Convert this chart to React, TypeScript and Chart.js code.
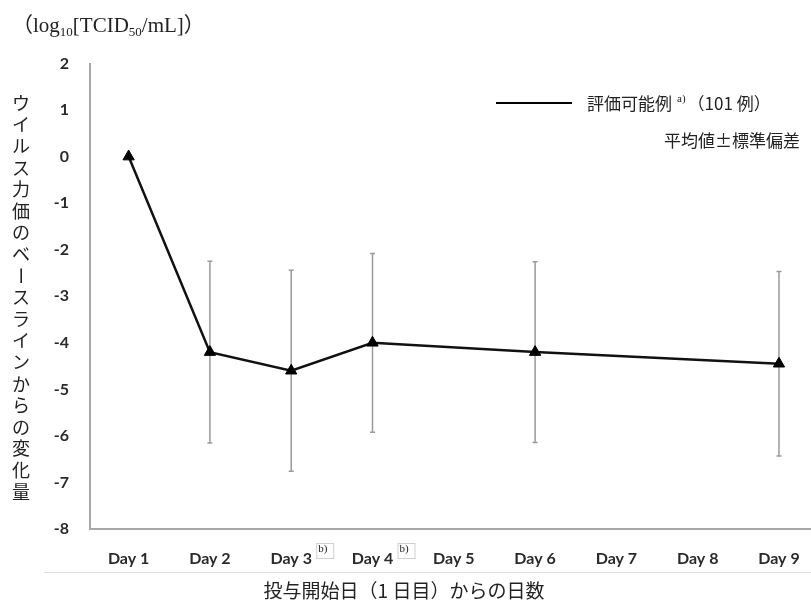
import React, { useEffect, useRef } from "react";
import { Chart, registerables } from "chart.js";

Chart.register(...registerables);

const dayLabels = ["Day 1", "Day 2", "Day 3", "Day 4", "Day 5", "Day 6", "Day 7", "Day 8", "Day 9"];
const measuredDays = [1, 2, 3, 4, 6, 9];
const meanChange = [0, -4.2, -4.6, -4.0, -4.2, -4.45];
const sdChange = [0, 1.95, 2.16, 1.92, 1.94, 1.98];
const yTickValues = [2, 1, 0, -1, -2, -3, -4, -5, -6, -7, -8];
const footnoteDays = [3, 4];

const yTitle = "ウイルス力価のベースラインからの変化量";
const xTitle = "投与開始日（1 日目）からの日数";
const legendLabel = "評価可能例";
const legendSup = "a)";
const legendTail = "（101 例）";
const statLabel = "平均値±標準偏差";

const CJK = '"Noto Sans CJK JP"';
const SERIF = '"Liberation Serif", "Noto Sans CJK JP"';

const errorBarPlugin = {
  id: "errorBars",
  beforeDatasetsDraw(chart: any) {
    const { ctx } = chart;
    const xs = chart.scales.x;
    const ys = chart.scales.y;
    ctx.save();
    ctx.strokeStyle = "#9a9a9a";
    ctx.lineWidth = 1.5;
    measuredDays.forEach((d, i) => {
      const sd = sdChange[i];
      if (!sd) return;
      const px = xs.getPixelForValue(d);
      const top = ys.getPixelForValue(meanChange[i] + sd);
      const bot = ys.getPixelForValue(meanChange[i] - sd);
      ctx.beginPath();
      ctx.moveTo(px, top);
      ctx.lineTo(px, bot);
      ctx.moveTo(px - 2.5, top);
      ctx.lineTo(px + 2.5, top);
      ctx.moveTo(px - 2.5, bot);
      ctx.lineTo(px + 2.5, bot);
      ctx.stroke();
    });
    ctx.restore();
  },
};

const annotationPlugin = {
  id: "annotations",
  afterDraw(chart: any) {
    const { ctx } = chart;
    const xs = chart.scales.x;
    ctx.save();
    ctx.fillStyle = "#222";
    ctx.textBaseline = "alphabetic";

    // unit label top-left
    let x = 12;
    const baseY = 32;
    const segs: [string, number, boolean][] = [
      ["（log", 0, false],
      ["10", 4, true],
      ["[TCID", 0, false],
      ["50", 4, true],
      ["/mL]）", 0, false],
    ];
    segs.forEach(([t, dy, small]) => {
      ctx.font = small ? `13px ${SERIF}` : `21px ${SERIF}`;
      ctx.textAlign = "left";
      ctx.fillText(t, x, baseY + dy);
      x += ctx.measureText(t).width;
    });

    // vertical y title
    ctx.font = `18px ${CJK}`;
    ctx.textAlign = "center";
    ctx.textBaseline = "middle";
    const chars = Array.from(yTitle);
    chars.forEach((ch, i) => {
      const cy = 103 + i * 21.6;
      if (ch === "ー") {
        ctx.save();
        ctx.translate(21, cy);
        ctx.rotate(Math.PI / 2);
        ctx.fillText(ch, 0, 0);
        ctx.restore();
      } else {
        ctx.fillText(ch, 21, cy);
      }
    });

    // legend
    ctx.strokeStyle = "#000";
    ctx.lineWidth = 2;
    ctx.beginPath();
    ctx.moveTo(496, 103);
    ctx.lineTo(572, 103);
    ctx.stroke();
    ctx.textAlign = "left";
    ctx.textBaseline = "middle";
    ctx.font = `17px ${CJK}`;
    let lx = 587;
    ctx.fillText(legendLabel, lx, 104);
    lx += ctx.measureText(legendLabel).width + 5;
    ctx.font = `11px ${SERIF}`;
    ctx.fillText(legendSup, lx, 99);
    lx += ctx.measureText(legendSup).width + 2;
    ctx.font = `17px ${CJK}`;
    ctx.fillText(legendTail, lx, 104);
    ctx.fillText(statLabel, 664, 141);

    // footnote boxes after Day 3 / Day 4
    footnoteDays.forEach((d) => {
      const bx = xs.getPixelForValue(d) + 25;
      ctx.fillStyle = "#fff";
      ctx.fillRect(bx, 543, 17, 15);
      ctx.strokeStyle = "#cfcfcf";
      ctx.lineWidth = 1;
      ctx.strokeRect(bx + 0.5, 543.5, 17, 15);
      ctx.fillStyle = "#222";
      ctx.font = `11px ${SERIF}`;
      ctx.textAlign = "left";
      ctx.textBaseline = "middle";
      ctx.fillText("b)", bx + 2, 549);
    });

    // separator line under tick labels
    ctx.strokeStyle = "#dddddd";
    ctx.lineWidth = 1;
    ctx.beginPath();
    ctx.moveTo(44, 572.5);
    ctx.lineTo(830, 572.5);
    ctx.stroke();

    // x title
    ctx.fillStyle = "#222";
    ctx.font = `19px ${CJK}`;
    ctx.textAlign = "center";
    ctx.textBaseline = "middle";
    ctx.fillText(xTitle, 404, 591);
    ctx.restore();
  },
};

export default function App() {
  const ref = useRef<HTMLCanvasElement>(null);
  useEffect(() => {
    if (!ref.current) return;
    const chart = new Chart(ref.current, {
      type: "line",
      data: {
        datasets: [
          {
            label: legendLabel,
            data: measuredDays.map((d, i) => ({ x: d, y: meanChange[i] })),
            borderColor: "#111",
            backgroundColor: "#000",
            borderWidth: 2.5,
            pointStyle: "triangle",
            pointRadius: 6.5,
            pointBorderWidth: 1,
            pointBorderColor: "#000",
            pointBackgroundColor: "#000",
            tension: 0,
          },
        ],
      },
      options: {
        responsive: false,
        animation: false,
        devicePixelRatio: 1,
        layout: { padding: { top: 63.5, left: 0, right: 0, bottom: 0 } },
        plugins: { legend: { display: false }, tooltip: { enabled: false } },
        scales: {
          x: {
            type: "linear",
            min: 0.525,
            max: 9.4,
            grid: { display: false, drawTicks: false },
            border: { display: true, color: "#a8a8a8", width: 2 },
            afterFit: (s: any) => {
              s.height = 82;
              s.paddingRight = 0;
              s.paddingLeft = 0;
            },
            afterBuildTicks: (s: any) => {
              s.ticks = dayLabels.map((_, i) => ({ value: i + 1 }));
            },
            ticks: {
              padding: 20,
              color: "#2a2a2a",
              font: { family: "Lato", size: 16, weight: "bold" },
              callback: (v: any) => dayLabels[Math.round(v) - 1] ?? "",
              maxRotation: 0,
              autoSkip: false,
            },
          },
          y: {
            min: -8,
            max: 2,
            grid: { display: false, drawTicks: false },
            border: { display: true, color: "#a8a8a8", width: 2 },
            afterFit: (s: any) => {
              s.width = 90;
              s.paddingTop = 0;
              s.paddingBottom = 0;
            },
            afterBuildTicks: (s: any) => {
              s.ticks = yTickValues.map((v) => ({ value: v }));
            },
            ticks: {
              padding: 21,
              color: "#2a2a2a",
              font: { family: "Lato", size: 16, weight: "bold" },
            },
          },
        },
      },
      plugins: [errorBarPlugin, annotationPlugin],
    });
    return () => chart.destroy();
  }, []);
  return (
    <div style={{ position: "fixed", left: 0, top: 0, width: 811, height: 611, background: "#fff", overflow: "hidden" }}>
      <canvas ref={ref} width={819} height={611} style={{ display: "block" }} />
    </div>
  );
}
